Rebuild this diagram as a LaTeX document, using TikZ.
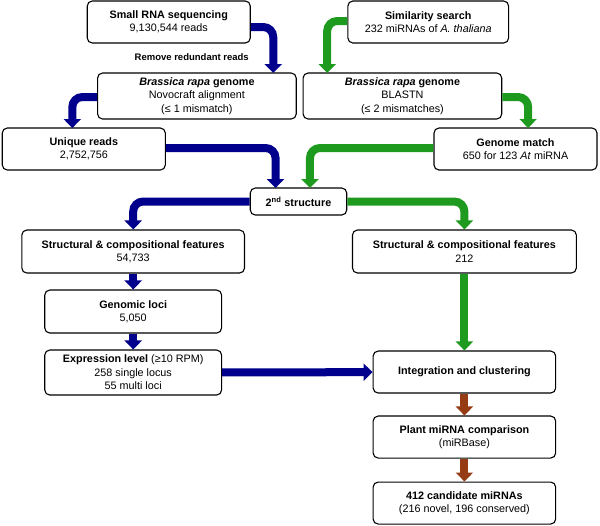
\documentclass[tikz,border=0pt]{standalone}
\usepackage{fontspec}
\setmainfont{Liberation Sans}
\usetikzlibrary{arrows.meta}
\definecolor{bl}{RGB}{0,0,140}
\definecolor{gr}{RGB}{30,155,30}
\definecolor{br}{RGB}{150,60,20}
\begin{document}
\begin{tikzpicture}[x=1.148pt,y=-1pt,
 box/.style={draw,line width=1.1pt,rounded corners=5pt,align=center,inner sep=0pt,font=\fontsize{10.8}{13.5}\selectfont},
 ar/.style={line width=8pt,rounded corners=10pt,-{Triangle[width=17pt,length=9pt]}},
 arb/.style={ar,draw=bl},arg/.style={ar,draw=gr},arr/.style={ar,draw=br}]
\useasboundingbox (0,0) rectangle (522.6,525);
\def\bx#1#2#3#4#5#6{\node[box,minimum width=1.148*(#4-#2),minimum height=#5-#3] (#1) at ({(#2+#4)/2},{(#3+#5)/2}) {#6};}
\bx{sr}{76}{1}{218}{43}{\textbf{Small RNA sequencing}\\9,130,544 reads}
\bx{ss}{303}{1}{443}{43}{\textbf{Similarity search}\\232 miRNAs of \textit{A. thaliana}}
\bx{b1}{85}{73}{258}{119}{\textbf{\textit{Brassica rapa} genome}\\Novocraft alignment\\(≤ 1 mismatch)}
\bx{b2}{264}{73}{437}{119}{\textbf{\textit{Brassica rapa} genome}\\BLASTN\\(≤ 2 mismatches)}
\bx{ur}{2}{128}{144}{170}{\textbf{Unique reads}\\2,752,756}
\bx{gm}{378}{128}{520}{170}{\textbf{Genome match}\\650 for 123 \textit{At} miRNA}
\bx{st}{218}{188}{302}{215}{\textbf{2\textsuperscript{nd} structure}}
\bx{sl}{19}{230}{213}{273}{\textbf{Structural \& compositional features}\\54,733}
\bx{sR}{307}{230}{502}{273}{\textbf{Structural \& compositional features}\\212}
\bx{gl}{39}{290}{193}{333}{\textbf{Genomic loci}\\5,050}
\bx{ex}{39}{350}{193}{395}{\textbf{Expression level} (≥10 RPM)\\258 single locus\\55 multi loci}
\bx{ic}{325}{351}{484}{393}{\textbf{Integration and clustering}}
\bx{pm}{325}{416}{484}{458}{\textbf{Plant miRNA comparison}\\(miRBase)}
\bx{fc}{325}{482}{484}{524}{\textbf{412 candidate miRNAs}\\(216 novel, 196 conserved)}
\node[font=\fontsize{9.5}{11}\selectfont\bfseries] (rr) at (167,57) {Remove redundant reads};
\draw[arb] (sr.east|-0,27) -| (238,73);
\draw[arb] (b1.west|-0,97) -| (63,128);
\draw[arb] (ur.east|-0,148) -| (240,188);
\draw[arb] (st.west) -| (sl.north);
\draw[arb] (sl) -- (gl);
\draw[arb] (gl) -- (ex);
\draw[arb] (ex) -- (ic);
\draw[arg] (ss.west|-0,21) -| (285,73);
\draw[arg] (b2.east|-0,97) -| (460,128);
\draw[arg] (gm.west|-0,148) -| (270,188);
\draw[arg] (st.east) -| (sR.north);
\draw[arg] (sR) -- (ic);
\draw[arr] (ic) -- (pm);
\draw[arr] (pm) -- (fc);
\end{tikzpicture}
\end{document}
